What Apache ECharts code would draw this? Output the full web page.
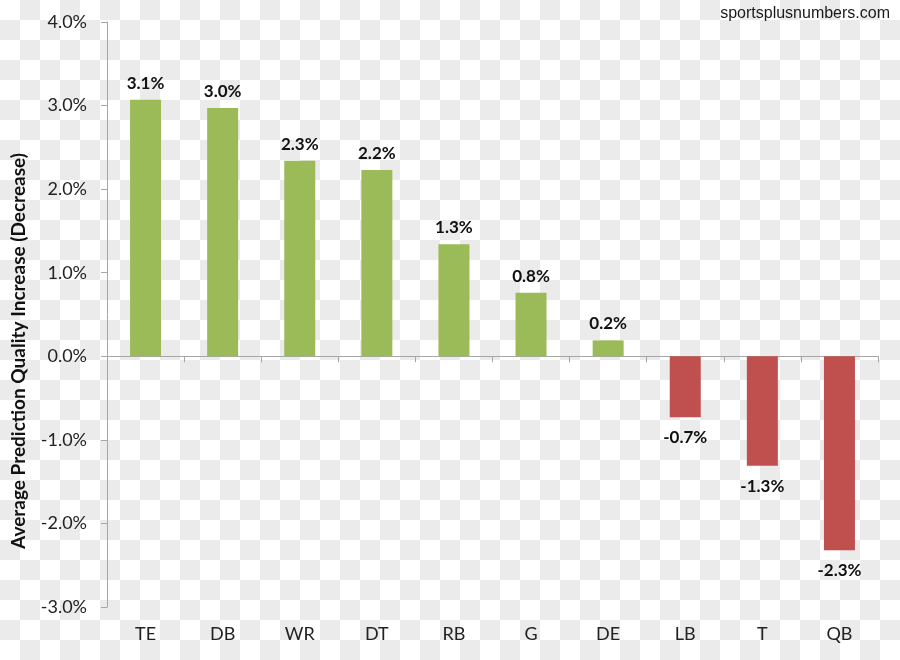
<!DOCTYPE html>
<html>
<head>
<meta charset="utf-8">
<script src="https://cdn.jsdelivr.net/npm/echarts@6/dist/echarts.min.js"></script>
<style>
  html, body { margin: 0; padding: 0; }
  body {
    width: 900px; height: 660px;
    background: repeating-conic-gradient(#ebebeb 0 25%, #ffffff 0 50%) 0 0 / 40px 40px;
  }
  #chart { width: 900px; height: 660px; }
</style>
</head>
<body>
<div id="chart"></div>
<script>
// Data (percent units)
const categories = ['TE', 'DB', 'WR', 'DT', 'RB', 'G', 'DE', 'LB', 'T', 'QB'];
const values = [3.07, 2.97, 2.34, 2.23, 1.34, 0.76, 0.19, -0.73, -1.31, -2.32];
const yTicks = { min: -3, max: 4, interval: 1 };
const yAxisTitle = 'Average Prediction Quality Increase (Decrease)';
const sourceText = 'sportsplusnumbers.com';

const GREEN = '#9BBB59';
const RED = '#C0504D';
const AXIS = '#a6a6a6';
const FONT = 'Lato, "Open Sans", sans-serif';

const chart = echarts.init(document.getElementById('chart'), null, { renderer: 'canvas' });
chart.setOption({
  backgroundColor: 'transparent',
  animation: false,
  grid: { left: 107, right: 22, top: 22, bottom: 53, outerBoundsMode: 'none' },
  xAxis: [
    {
      type: 'category',
      data: categories,
      position: 'bottom',
      axisLine: { show: false, onZero: false },
      axisTick: { show: false },
      axisLabel: { color: '#222', fontFamily: FONT, fontSize: 18, margin: 18 },
      splitLine: { show: false }
    },
    {
      type: 'category',
      data: categories,
      position: 'bottom',
      axisLine: { show: true, onZero: true, lineStyle: { color: AXIS, width: 1 } },
      axisTick: { show: true, inside: false, length: 6, alignWithLabel: false, lineStyle: { color: AXIS } },
      axisLabel: { show: false },
      splitLine: { show: false }
    }
  ],
  yAxis: {
    type: 'value',
    min: yTicks.min,
    max: yTicks.max,
    interval: yTicks.interval,
    axisLine: { show: true, lineStyle: { color: AXIS, width: 1 } },
    axisTick: { show: true, inside: false, length: 6, lineStyle: { color: AXIS } },
    axisLabel: {
      color: '#222', fontFamily: FONT, fontSize: 18, margin: 20,
      formatter: v => v.toFixed(1) + '%'
    },
    splitLine: { show: false }
  },
  series: [{
    type: 'bar',
    xAxisIndex: 0,
    data: values.map(v => v < 0
      ? { value: v, label: { position: 'bottom', distance: 12 } }
      : v),
    barWidth: 31,
    itemStyle: { color: p => (p.value >= 0 ? GREEN : RED) },
    label: {
      show: true,
      position: 'top',
      distance: 8,
      color: '#111',
      fontFamily: FONT,
      fontSize: 17,
      fontWeight: 'bold',
      formatter: p => p.value.toFixed(1) + '%'
    }
  }],
  graphic: [
    {
      type: 'text',
      right: 10,
      top: 6,
      style: {
        text: sourceText,
        fill: '#1a1a1a',
        font: '16px "Liberation Sans", Arial, sans-serif'
      }
    },
    {
      type: 'text',
      x: 19,
      y: 351,
      rotation: Math.PI / 2,
      style: {
        text: yAxisTitle,
        fill: '#111',
        font: 'bold 19px Lato, "Open Sans", sans-serif',
        align: 'center',
        verticalAlign: 'middle'
      }
    }
  ]
});
</script>
</body>
</html>
